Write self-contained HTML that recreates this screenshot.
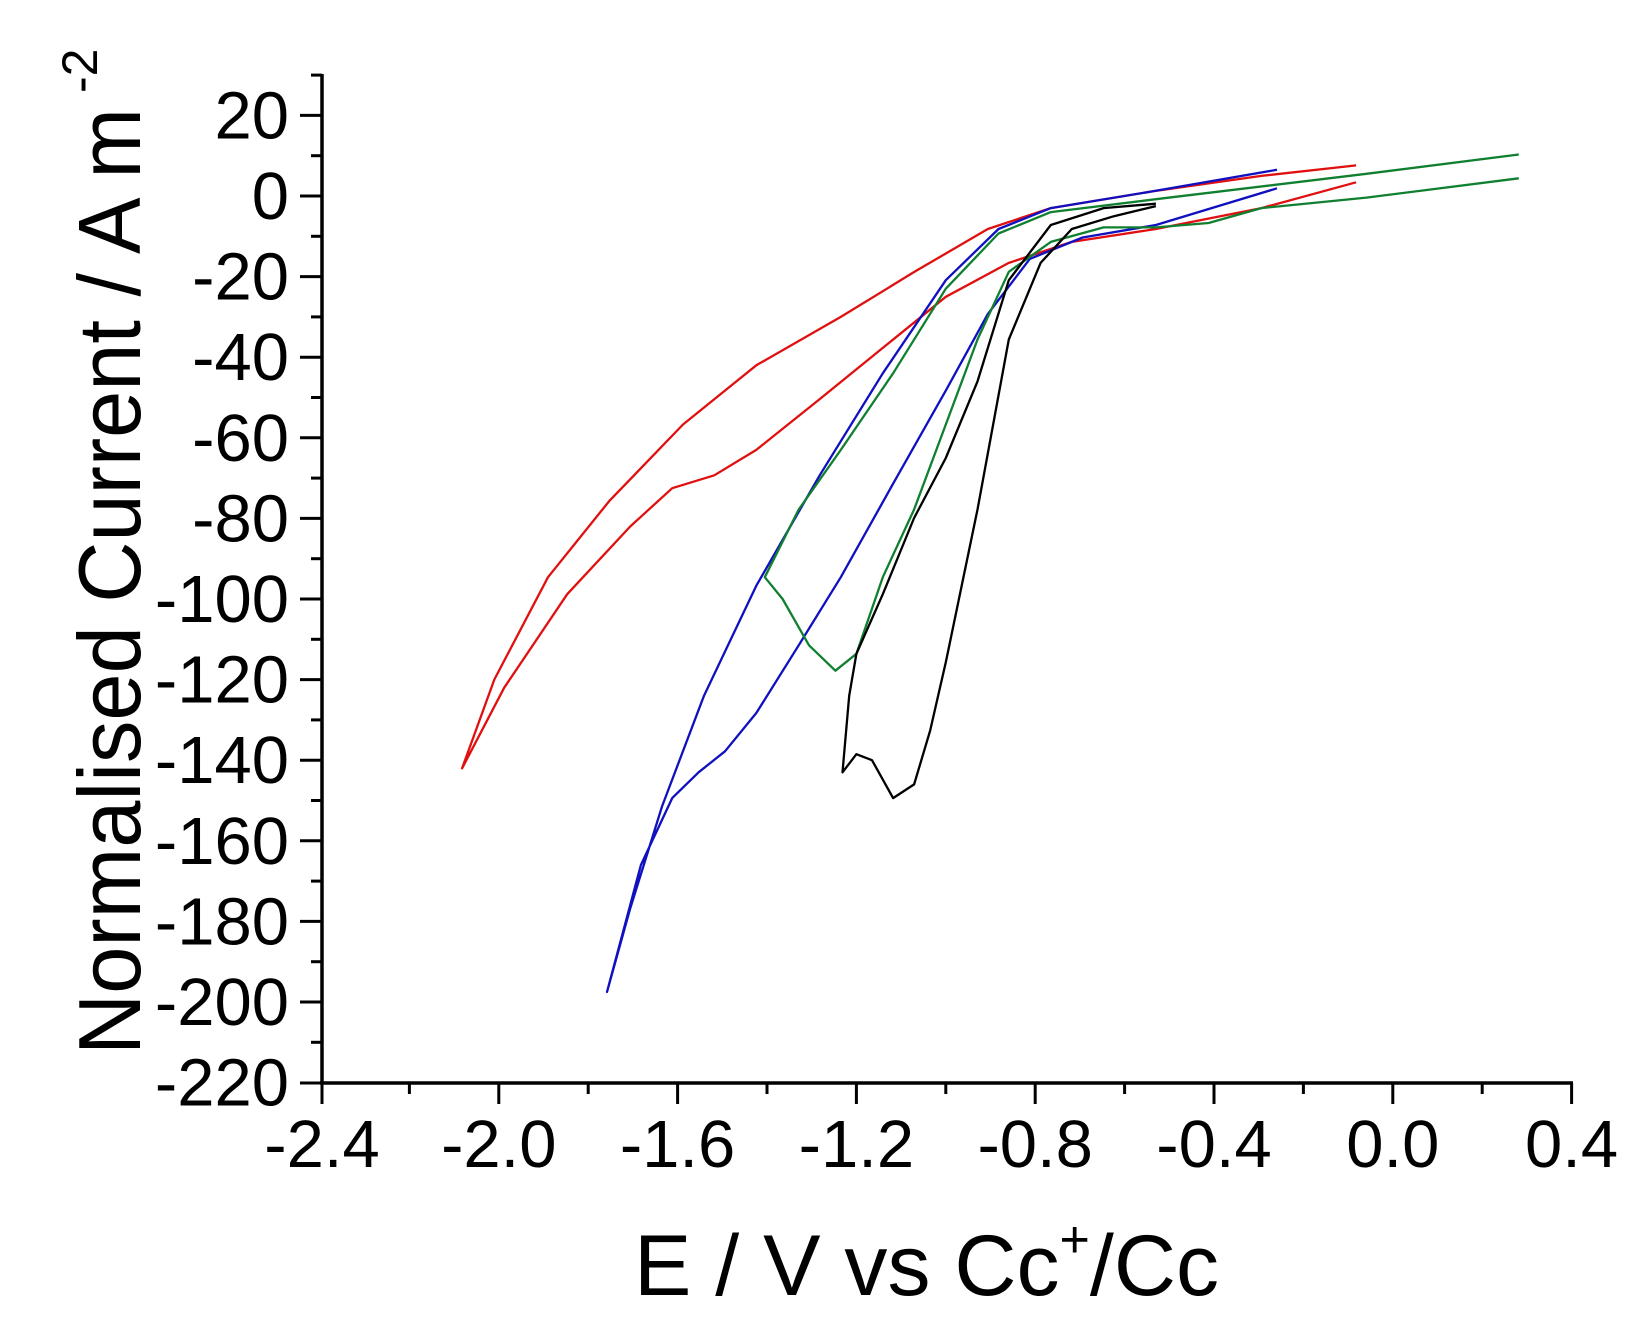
<!DOCTYPE html>
<html><head><meta charset="utf-8"><style>
html,body{margin:0;padding:0;background:#fff;}
svg{display:block;}
text{font-family:"Liberation Sans",Arial,sans-serif;fill:#000;}
</style></head><body>
<svg width="1648" height="1331" viewBox="0 0 1648 1331" xmlns="http://www.w3.org/2000/svg">
<g stroke="#000" stroke-width="3.5" fill="none">
<line x1="322" y1="74" x2="322" y2="1084"/>
<line x1="320" y1="1083" x2="1573" y2="1083"/>
</g>
<g stroke="#000" stroke-width="3">
<line x1="311" y1="75.1" x2="322" y2="75.1"/>
<line x1="300" y1="115.4" x2="322" y2="115.4"/>
<line x1="311" y1="155.7" x2="322" y2="155.7"/>
<line x1="300" y1="196" x2="322" y2="196"/>
<line x1="311" y1="236.3" x2="322" y2="236.3"/>
<line x1="300" y1="276.6" x2="322" y2="276.6"/>
<line x1="311" y1="316.9" x2="322" y2="316.9"/>
<line x1="300" y1="357.2" x2="322" y2="357.2"/>
<line x1="311" y1="397.5" x2="322" y2="397.5"/>
<line x1="300" y1="437.8" x2="322" y2="437.8"/>
<line x1="311" y1="478.1" x2="322" y2="478.1"/>
<line x1="300" y1="518.4" x2="322" y2="518.4"/>
<line x1="311" y1="558.7" x2="322" y2="558.7"/>
<line x1="300" y1="599" x2="322" y2="599"/>
<line x1="311" y1="639.3" x2="322" y2="639.3"/>
<line x1="300" y1="679.6" x2="322" y2="679.6"/>
<line x1="311" y1="719.9" x2="322" y2="719.9"/>
<line x1="300" y1="760.2" x2="322" y2="760.2"/>
<line x1="311" y1="800.5" x2="322" y2="800.5"/>
<line x1="300" y1="840.8" x2="322" y2="840.8"/>
<line x1="311" y1="881.1" x2="322" y2="881.1"/>
<line x1="300" y1="921.4" x2="322" y2="921.4"/>
<line x1="311" y1="961.7" x2="322" y2="961.7"/>
<line x1="300" y1="1002" x2="322" y2="1002"/>
<line x1="311" y1="1042.3" x2="322" y2="1042.3"/>
<line x1="300" y1="1083" x2="322" y2="1083"/>
<line x1="322" y1="1083" x2="322" y2="1104"/>
<line x1="409.4" y1="1083" x2="409.4" y2="1094"/>
<line x1="498.8" y1="1083" x2="498.8" y2="1104"/>
<line x1="588.2" y1="1083" x2="588.2" y2="1094"/>
<line x1="677.6" y1="1083" x2="677.6" y2="1104"/>
<line x1="767" y1="1083" x2="767" y2="1094"/>
<line x1="856.4" y1="1083" x2="856.4" y2="1104"/>
<line x1="945.8" y1="1083" x2="945.8" y2="1094"/>
<line x1="1035.2" y1="1083" x2="1035.2" y2="1104"/>
<line x1="1124.6" y1="1083" x2="1124.6" y2="1094"/>
<line x1="1214" y1="1083" x2="1214" y2="1104"/>
<line x1="1303.4" y1="1083" x2="1303.4" y2="1094"/>
<line x1="1392.8" y1="1083" x2="1392.8" y2="1104"/>
<line x1="1482.2" y1="1083" x2="1482.2" y2="1094"/>
<line x1="1571.6" y1="1083" x2="1571.6" y2="1104"/>
</g>
<g font-size="67" text-anchor="end">
<text x="289" y="138.4">20</text>
<text x="289" y="219">0</text>
<text x="289" y="299.6">-20</text>
<text x="289" y="380.2">-40</text>
<text x="289" y="460.8">-60</text>
<text x="289" y="541.4">-80</text>
<text x="289" y="622">-100</text>
<text x="289" y="702.6">-120</text>
<text x="289" y="783.2">-140</text>
<text x="289" y="863.8">-160</text>
<text x="289" y="944.4">-180</text>
<text x="289" y="1025">-200</text>
<text x="289" y="1105.6">-220</text>
</g>
<g font-size="67" text-anchor="middle">
<text x="322" y="1167">-2.4</text>
<text x="498.8" y="1167">-2.0</text>
<text x="677.6" y="1167">-1.6</text>
<text x="856.4" y="1167">-1.2</text>
<text x="1035.2" y="1167">-0.8</text>
<text x="1214" y="1167">-0.4</text>
<text x="1392.8" y="1167">0.0</text>
<text x="1571.6" y="1167">0.4</text>
</g>
<g fill="none" stroke-width="2.3" stroke-linejoin="round">
<polyline stroke="#e01010" points="1356.1,165.4 1261.4,175.9 1155.9,190.8 1050.8,208.1 987.8,229 914.5,271.8 840.8,316.9 756.3,365.3 683,424.5 609.2,501.1 548,577.2 494.3,679.6 462.1,768.3 504.2,687.7 567.2,594.2 630.2,526.5 672.2,488.2 714.3,475.3 756.3,449.9 819.7,399.1 882.8,347.9 945.8,296.8 1008.8,262.9 1071.8,241.9 1155.9,229 1261.4,208.1 1356.1,182.3"/>
<polyline stroke="#1010c0" points="1277,169.8 1155.9,190.8 1050.8,208.1 998.5,229 945.8,280.2 882.8,373.3 819.7,475.3 756.3,585.7 704,695.7 662,806.5 630.2,908.5 607,991.9 640.9,865 672.2,798.1 698.6,772.3 725,751.3 756.3,713 798.7,645.3 840.8,577.2 893.1,483.7 945.8,390.6 987.8,314.1 1029.8,258.9 1082.6,237.5 1155.9,225 1277,188.3"/>
<polyline stroke="#108030" points="1518.8,154.5 1366.4,173.8 1155.9,199.2 1050.8,212.1 998.5,233.5 945.8,288.7 893.1,373.3 840.8,449.9 798.7,509.5 764.8,577.2 782.6,599 809,645.3 835.4,670.7 856.4,653.8 882.8,577.2 914.1,509.5 945.8,424.5 977.5,339.5 1008.8,271.8 1050.8,241.9 1103.6,227.4 1155.9,227.4 1208.6,223 1261.4,208.1 1366.4,197.6 1518.8,178.3"/>
<polyline stroke="#000000" points="1155.9,203.7 1103.6,208.1 1050.8,225 1008.8,280.2 977.5,381.4 945.8,458 914.1,518 882.8,594.2 856.4,653.8 849.2,695.7 842.5,772.3 856.4,754.2 872,760.2 893.1,798.1 914.1,784.4 930.2,730.4 945.8,662.3 977.5,509.5 1008.8,339.5 1040.6,262.9 1071.8,229 1113.9,216.2 1155.9,206.1"/>
</g>
<text x="0" y="0" font-size="88" transform="translate(140,1055) rotate(-90)" textLength="947" lengthAdjust="spacingAndGlyphs">Normalised Current / A m</text>
<text x="0" y="0" font-size="50" transform="translate(97,93) rotate(-90)">-2</text>
<text x="634" y="1295" font-size="86" textLength="585" lengthAdjust="spacingAndGlyphs">E / V vs Cc<tspan font-size="52" dy="-38">+</tspan><tspan dy="38">/Cc</tspan></text>
</svg>
</body></html>
